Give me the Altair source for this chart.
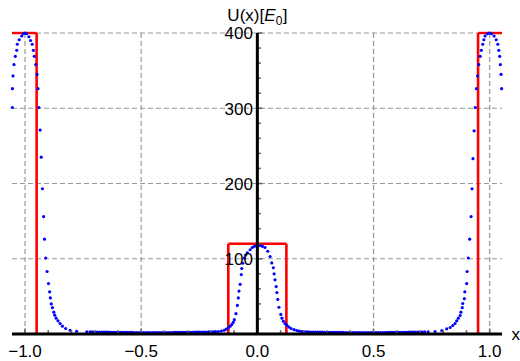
import altair as alt
import pandas as pd

X_MIN, X_MAX = -1.056, 1.053
Y_MIN, Y_MAX = 0, 400

peakL_x = [-1.0545, -1.054, -1.0517, -1.0474, -1.0418, -1.0357, -1.0331, -1.025, -1.0142, -1.007, -1.0,
           -0.993, -0.9833, -0.976, -0.969, -0.964, -0.960, -0.954, -0.948, -0.944, -0.940, -0.935,
           -0.930, -0.925, -0.920, -0.916, -0.911, -0.905, -0.899, -0.894, -0.891, -0.887, -0.882,
           -0.876, -0.872, -0.866, -0.858, -0.849, -0.839, -0.825, -0.806, -0.778, -0.734]
peakL_y = [301, 326, 343, 358, 369, 377, 385, 391, 396, 399, 400,
           399, 395, 390, 385, 377, 369, 358, 345, 326, 301, 271,
           235, 193, 156, 126, 101, 83, 67, 56, 48, 40, 35,
           29, 25, 21, 17.5, 14, 10.4, 7.3, 5, 3.7, 3.0]

tailL_x = [-0.72, -0.71, -0.70, -0.69, -0.68, -0.67, -0.66, -0.65, -0.64, -0.63, -0.62, -0.61,
           -0.60, -0.59, -0.58, -0.57, -0.56, -0.55, -0.54, -0.53, -0.52, -0.51, -0.50, -0.49,
           -0.48, -0.47, -0.46, -0.45, -0.44, -0.43, -0.42, -0.41, -0.40, -0.39, -0.38, -0.37,
           -0.36, -0.35, -0.34, -0.33, -0.32, -0.31, -0.30, -0.29, -0.28, -0.27, -0.26, -0.25,
           -0.24, -0.23, -0.22, -0.21, -0.20, -0.19, -0.18]
tailL_y = [2.9, 2.8, 2.7, 2.7, 2.6, 2.5, 2.5, 2.4, 2.4, 2.3, 2.3, 2.3,
           2.2, 2.2, 2.2, 2.1, 2.1, 2.1, 2.1, 2.0, 2.0, 2.0, 2.0, 2.0,
           2.0, 2.0, 2.0, 2.0, 2.0, 2.0, 2.0, 2.0, 2.0, 2.0, 2.0, 2.0,
           2.1, 2.1, 2.1, 2.1, 2.2, 2.2, 2.2, 2.3, 2.3, 2.4, 2.4, 2.5,
           2.5, 2.6, 2.7, 2.8, 2.9, 3.0, 3.1]

center_x = [-0.168, -0.155, -0.143, -0.134, -0.125, -0.117, -0.110, -0.104, -0.099, -0.092, -0.086,
            -0.082, -0.079, -0.074, -0.069, -0.067, -0.063, -0.056, -0.050, -0.043, -0.031, -0.022,
            -0.013, -0.005, 0.004, 0.012, 0.022, 0.033, 0.045, 0.055, 0.062, 0.069, 0.072, 0.076,
            0.081, 0.084, 0.088, 0.093, 0.101, 0.106, 0.112, 0.119, 0.127, 0.136, 0.145, 0.158,
            0.170, 0.181, 0.191]
center_y = [3.2, 4.0, 5.0, 6.5, 8.2, 10.3, 12.6, 15.5, 19, 27, 38,
            48, 57, 66, 79, 87, 94, 101, 105, 108, 112, 115,
            116.5, 117.5, 118, 117.5, 116.5, 115, 110, 103, 94.5, 88, 80, 72,
            63, 55, 46, 35.6, 26, 21, 17, 14, 11.7, 9.3, 7.3, 5.8,
            4.6, 3.8, 3.3]

tailR_x = [0.20, 0.21, 0.22, 0.23, 0.24, 0.25, 0.26, 0.27, 0.28, 0.29, 0.30, 0.31, 0.32, 0.33,
           0.34, 0.35, 0.36, 0.37, 0.38, 0.39, 0.40, 0.41, 0.42, 0.43, 0.44, 0.45, 0.46, 0.47,
           0.48, 0.49, 0.50, 0.51, 0.52, 0.53, 0.54, 0.55, 0.56, 0.57, 0.58, 0.59, 0.60, 0.61,
           0.62, 0.63, 0.64, 0.65, 0.66, 0.67, 0.68, 0.69, 0.70, 0.71, 0.72]
tailR_y = [3.0, 2.9, 2.8, 2.7, 2.6, 2.5, 2.5, 2.4, 2.4, 2.3, 2.3, 2.2, 2.2, 2.2,
           2.1, 2.1, 2.1, 2.1, 2.0, 2.0, 2.0, 2.0, 2.0, 2.0, 2.0, 2.0, 2.0, 2.0,
           2.0, 2.0, 2.0, 2.0, 2.0, 2.0, 2.0, 2.0, 2.1, 2.1, 2.1, 2.2, 2.2, 2.2,
           2.3, 2.3, 2.3, 2.4, 2.4, 2.5, 2.5, 2.6, 2.6, 2.7, 2.8]

peakR_x = [0.735, 0.765, 0.794, 0.815, 0.830, 0.841, 0.851, 0.858, 0.865, 0.873, 0.876, 0.882,
           0.884, 0.891, 0.893, 0.901, 0.903, 0.908, 0.914, 0.920, 0.924, 0.928, 0.933, 0.938,
           0.943, 0.948, 0.953, 0.959, 0.964, 0.970, 0.975, 0.980, 0.990, 0.999, 1.008, 1.019,
           1.028, 1.035, 1.039, 1.043, 1.046, 1.049, 1.0515]
peakR_y = [2.9, 3.3, 4.6, 6.9, 8.6, 11.3, 14, 17.5, 21, 24.6, 29, 35,
           40.5, 47, 56, 67, 83, 101, 126, 156, 193, 233, 270, 301,
           326, 343, 358, 369, 377, 385, 391, 396, 399, 400, 399, 396,
           391, 385, 377, 369, 358, 345, 326]

pts = pd.DataFrame({
    "x": peakL_x + tailL_x + center_x + tailR_x + peakR_x,
    "y": peakL_y + tailL_y + center_y + tailR_y + peakR_y,
})

# ---- red step potential ----
wall_x = [-0.95, -0.125, 0.125, 0.95]
wall_h = [400, 120, 120, 400]
top_x1 = [X_MIN, -0.125, 0.95]
top_x2 = [-0.95, 0.125, X_MAX]
top_y = [400, 120, 400]

# ---- grid / ticks / labels ----
grid_x = [-1.0, -0.5, 0.5, 1.0]
grid_y = [100, 200, 300, 400]
major_x = [-1.0, -0.5, 0.0, 0.5, 1.0]
x_labels = ["\u22121.0", "\u22120.5", "0.0", "0.5", "1.0"]
minor_x = [-0.9, -0.8, -0.7, -0.6, -0.4, -0.3, -0.2, -0.1, 0.1, 0.2, 0.3, 0.4, 0.6, 0.7, 0.8, 0.9]
major_y = [100, 200, 300, 400]
y_labels = ["100", "200", "300", "400"]
minor_y = [20, 40, 60, 80, 120, 140, 160, 180, 220, 240, 260, 280, 320, 340, 360, 380]

FONT = "Liberation Sans"
FS = 17

xs = alt.Scale(domain=[X_MIN, X_MAX], nice=False, zero=False)
ys = alt.Scale(domain=[Y_MIN, Y_MAX], nice=False, zero=False)


def X(f="x"):
    return alt.X(f"{f}:Q", scale=xs, axis=None)


def Y(f="y"):
    return alt.Y(f"{f}:Q", scale=ys, axis=None)


def df(n, **cols):
    out = {}
    for k, v in cols.items():
        out[k] = v if isinstance(v, list) else [v] * n
    return pd.DataFrame(out)


GRID = dict(color="#999999", strokeWidth=1.2, strokeDash=[5, 3])

gx = alt.Chart(df(len(grid_x), x=grid_x, y=Y_MIN, y2=Y_MAX)).mark_rule(**GRID).encode(
    x=X(), y=Y(), y2="y2:Q")
gy = alt.Chart(df(len(grid_y), y=grid_y, x=X_MIN, x2=X_MAX)).mark_rule(**GRID).encode(
    y=Y(), x=X(), x2="x2:Q")

walls = alt.Chart(df(len(wall_x), x=wall_x, y=0, h=wall_h)).mark_rule(
    color="#ff0000", strokeWidth=2.6
).encode(x=X(), y=Y(), y2="h:Q")

tops = alt.Chart(df(3, x=top_x1, x2=top_x2, y=top_y)).mark_rule(
    color="#ff0000", strokeWidth=2.4
).encode(x=X(), x2="x2:Q", y=Y())

points = alt.Chart(pts).mark_circle(size=10, color="#0000ff", opacity=1).encode(x=X(), y=Y())

TICK = dict(color="#666666", strokeWidth=1.6)
xtick_major = alt.Chart(df(len(major_x), x=major_x, y=0, y2=0)).mark_rule(
    y2Offset=-5.5, **TICK).encode(x=X(), y=Y(), y2="y2:Q")
xtick_minor = alt.Chart(df(len(minor_x), x=minor_x, y=0, y2=0)).mark_rule(
    y2Offset=-3.8, **TICK).encode(x=X(), y=Y(), y2="y2:Q")
ytick_major = alt.Chart(df(len(major_y), y=major_y, x=0, x2=0)).mark_rule(
    x2Offset=5, **TICK).encode(y=Y(), x=X(), x2="x2:Q")
ytick_minor = alt.Chart(df(len(minor_y), y=minor_y, x=0, x2=0)).mark_rule(
    x2Offset=3.5, **TICK).encode(y=Y(), x=X(), x2="x2:Q")

xaxis = alt.Chart(df(1, x=X_MIN, x2=X_MAX, y=0)).mark_rule(color="black", strokeWidth=3).encode(
    x=X(), x2="x2:Q", y=Y())
yaxis = alt.Chart(df(1, x=0, y=0, y2=Y_MAX)).mark_rule(color="black", strokeWidth=3).encode(
    x=X(), y=Y(), y2="y2:Q")

xlab = alt.Chart(df(len(major_x), x=major_x, y=0, t=x_labels)).mark_text(
    font=FONT, fontSize=FS, color="black", align="center", baseline="alphabetic", dy=22.5
).encode(x=X(), y=Y(), text="t:N")
ylab = alt.Chart(df(len(major_y), y=major_y, x=0, t=y_labels)).mark_text(
    font=FONT, fontSize=FS, color="black", align="right", baseline="alphabetic", dx=-4.5, dy=6.3
).encode(y=Y(), x=X(), text="t:N")


def piece(text, dx, dy, size=FS, style="normal"):
    return alt.Chart(df(1, x=0, y=Y_MAX, t=text)).mark_text(
        font=FONT, fontSize=size, fontStyle=style, color="black", align="left",
        baseline="alphabetic", dx=dx, dy=dy
    ).encode(x=X(), y=Y(), text="t:N")


title_parts = [
    piece("U(x)[", -30, -12),
    piece("E", 6.8, -12, style="italic"),
    piece("0", 18.4, -8.5, size=12),
    piece("]", 25.3, -12),
]

xname = alt.Chart(df(1, x=X_MAX, y=0, t="x")).mark_text(
    font=FONT, fontSize=FS, color="black", align="left", baseline="alphabetic", dx=9.5, dy=5.5
).encode(x=X(), y=Y(), text="t:N")

chart = alt.layer(
    gx, gy, walls, tops, points,
    xtick_major, xtick_minor, ytick_major, ytick_minor,
    xaxis, yaxis, xlab, ylab, *title_parts, xname
).properties(
    width=490, height=301,
    autosize=alt.AutoSizeParams(type="none"),
    padding={"left": 12, "top": 33, "right": 18, "bottom": 27},
).configure_view(stroke=None)

chart.save("out.html", embed_options={"renderer": "svg", "actions": False})
